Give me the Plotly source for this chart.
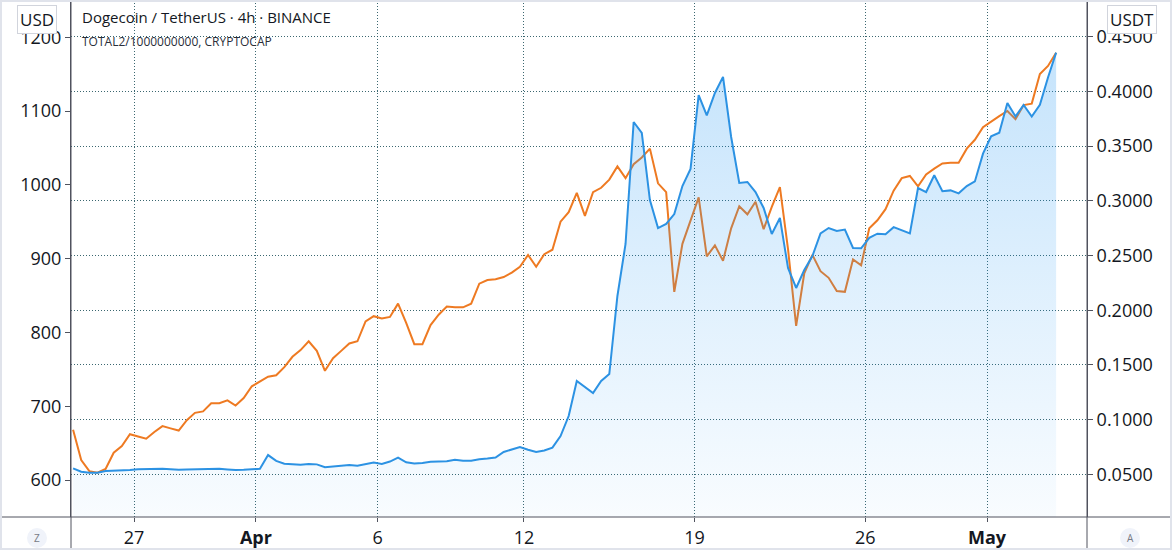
import pandas as pd
import plotly.graph_objects as go

# ---------------- data (8h steps) ----------------
start_time = "2021-03-24 12:00"
n_points = 122
dates = pd.date_range(start_time, periods=n_points, freq="8h")

total2_usd = [
    668, 627, 612, 610, 615, 637, 646, 662, 659, 656,
    665, 673, 670, 667, 681, 691, 693, 704, 704, 708,
    701, 711, 727, 734, 740, 742, 753, 767, 776, 788,
    775, 748, 765, 775, 785, 788, 815, 822, 819, 821,
    839, 813, 784, 784, 810, 824, 835, 834, 834, 839,
    866, 871, 872, 875, 881, 889, 905, 889, 906, 912,
    950, 963, 989, 958, 990, 996, 1007, 1025, 1009, 1028,
    1037, 1049, 1002, 990, 855, 920, 951, 983, 903, 918,
    897, 941, 971, 960, 977, 940, 970, 997, 913, 809,
    880, 905, 883, 874, 856, 855, 899, 891, 941, 952,
    967, 992, 1009, 1012, 998, 1014, 1022, 1029, 1030, 1030,
    1049, 1061, 1078, 1086, 1093, 1100, 1089, 1108, 1110, 1150,
    1161, 1179,
]

doge_usdt = [
    0.0555, 0.0524, 0.0515, 0.0515, 0.0530, 0.0532, 0.0535, 0.0539, 0.0547, 0.0549,
    0.0551, 0.0551, 0.0547, 0.0541, 0.0545, 0.0548, 0.0551, 0.0554, 0.0551, 0.0545,
    0.0539, 0.0541, 0.0546, 0.0551, 0.0676, 0.0623, 0.0597, 0.0594, 0.0587, 0.0594,
    0.0591, 0.0565, 0.0572, 0.0576, 0.0585, 0.0578, 0.0591, 0.0608, 0.0595, 0.0617,
    0.0652, 0.0610, 0.0600, 0.0603, 0.0614, 0.0619, 0.0620, 0.0634, 0.0624, 0.0624,
    0.0638, 0.0644, 0.0654, 0.0704, 0.0726, 0.0750, 0.0725, 0.0704, 0.0718, 0.0744,
    0.0850, 0.1033, 0.1353, 0.1298, 0.1243, 0.1353, 0.1417, 0.2130, 0.2605, 0.3720,
    0.3620, 0.3007, 0.2751, 0.2788, 0.2879, 0.3135, 0.3291, 0.3966, 0.3780, 0.3985,
    0.4132, 0.3583, 0.3163, 0.3172, 0.3080, 0.2934, 0.2697, 0.2843, 0.2386, 0.2203,
    0.2367, 0.2495, 0.2701, 0.2751, 0.2724, 0.2737, 0.2569, 0.2566, 0.2662, 0.2699,
    0.2694, 0.2759, 0.2727, 0.2701, 0.3117, 0.3080, 0.3233, 0.3088, 0.3095, 0.3068,
    0.3134, 0.3177, 0.3431, 0.3590, 0.3622, 0.3894, 0.3771, 0.3875, 0.3770, 0.3878,
    0.4127, 0.4354,
]

x_tick_dates = ["2021-03-27", "2021-04-01", "2021-04-06", "2021-04-12",
                "2021-04-19", "2021-04-26", "2021-05-01"]
x_tick_labels = ["27", "<b>Apr</b>", "6", "12", "19", "26", "<b>May</b>"]
usd_ticks = [600, 700, 800, 900, 1000, 1100, 1200]
usdt_ticks = [0.05, 0.10, 0.15, 0.20, 0.25, 0.30, 0.35, 0.40, 0.45]

title_main = "Dogecoin / TetherUS · 4h · BINANCE"
title_sub = "TOTAL2/1000000000, CRYPTOCAP"

# ---------------- style ----------------
FONT = "Open Sans"
TXT = "#131722"
AXIS = "#50535e"
GRID = "rgba(38,86,96,0.9)"
ORANGE = "#ee7a22"
BLUE = "#2c92e3"

W, H = 1172, 550
ML, MR, MT, MB = 71, 85, 0, 33
PW, PH = W - ML - MR, H - MT - MB


def px_x(px):
    return (px - ML) / PW


def px_y(py):
    return (MT + PH - py) / PH


fig = go.Figure()

fig.add_trace(go.Scatter(
    x=dates, y=total2_usd, mode="lines", yaxis="y",
    line=dict(color=ORANGE, width=2), hoverinfo="skip", showlegend=False,
))

fig.add_trace(go.Scatter(
    x=dates, y=doge_usdt, mode="lines", yaxis="y2",
    line=dict(color=BLUE, width=2), fill="tozeroy",
    fillgradient=dict(type="vertical",
                      colorscale=[[0, "rgba(33,150,243,0.03)"],
                                  [1, "rgba(33,150,243,0.26)"]],
                      start=0.011, stop=max(doge_usdt)),
    hoverinfo="skip", showlegend=False,
))

fig.update_layout(
    width=W, height=H,
    margin=dict(l=ML, r=MR, t=MT, b=MB),
    paper_bgcolor="white", plot_bgcolor="white",
    font=dict(family=FONT, color=TXT),
    xaxis=dict(
        type="date",
        range=["2021-03-24 09:57", "2021-05-05 02:24"],
        tickvals=x_tick_dates, ticktext=x_tick_labels,
        tickfont=dict(size=18, color=TXT),
        showgrid=True, gridcolor=GRID, griddash="1px,2px", gridwidth=1,
        ticks="outside", ticklen=4, tickcolor=AXIS,
        showline=False, zeroline=False, fixedrange=True,
    ),
    yaxis=dict(
        range=[549.9, 1250.4],
        tickvals=usd_ticks,
        tickfont=dict(size=18, color=TXT),
        showgrid=False, zeroline=False,
        ticks="outside", ticklen=5, tickcolor=AXIS,
        showline=True, linecolor=AXIS, linewidth=1,
    ),
    yaxis2=dict(
        overlaying="y", side="right",
        range=[0.011, 0.4835],
        tickvals=usdt_ticks, tickformat=".4f",
        tickfont=dict(size=18, color=TXT),
        showgrid=True, gridcolor=GRID, griddash="1px,2px", gridwidth=1,
        zeroline=False,
        ticks="outside", ticklen=5, tickcolor=AXIS,
        showline=True, linecolor=AXIS, linewidth=1,
    ),
)

# frame lines extending past the plot area
bottom_y = px_y(H)
left_x = px_x(0)
right_x = px_x(W)
shapes = [
    dict(type="line", xref="paper", yref="paper", x0=0, x1=0, y0=bottom_y, y1=1,
         line=dict(color=AXIS, width=1)),
    dict(type="line", xref="paper", yref="paper", x0=1, x1=1, y0=bottom_y, y1=1,
         line=dict(color=AXIS, width=1)),
    dict(type="line", xref="paper", yref="paper", x0=left_x, x1=right_x, y0=0, y1=0,
         line=dict(color=AXIS, width=1)),
    dict(type="rect", xref="paper", yref="paper", x0=left_x, x1=right_x,
         y0=bottom_y, y1=px_y(0), line=dict(color="#e0e3eb", width=4)),
]
# small round buttons "Z" and "A" below the price scales
for cx in (37, 1130):
    shapes.append(dict(type="circle", xref="paper", yref="paper",
                       xsizemode="pixel", ysizemode="pixel",
                       xanchor=px_x(cx), yanchor=px_y(538),
                       x0=-10, x1=10, y0=-10, y1=10,
                       fillcolor="#f0f3fa", line=dict(width=0), layer="above"))
fig.update_layout(shapes=shapes)

ann = []
ann.append(dict(text=title_main, xref="paper", yref="paper",
                x=px_x(80), y=px_y(17), xanchor="left", yanchor="middle",
                showarrow=False, font=dict(size=15, color=TXT, family=FONT)))
ann.append(dict(text=title_sub, xref="paper", yref="paper",
                x=px_x(80), y=px_y(41), xanchor="left", yanchor="middle",
                showarrow=False, font=dict(size=12, color="#2a2e39", family=FONT)))
for label, cx in (("USD", 37), ("USDT", 1132)):
    ann.append(dict(text=label, xref="paper", yref="paper",
                    x=px_x(cx), y=px_y(20), xanchor="center", yanchor="middle",
                    showarrow=False, bgcolor="white", bordercolor="#d1d4dc",
                    borderwidth=1, borderpad=2,
                    font=dict(size=17, color=TXT, family=FONT)))
for label, cx in (("Z", 37), ("A", 1130)):
    ann.append(dict(text=label, xref="paper", yref="paper",
                    x=px_x(cx), y=px_y(538), xanchor="center", yanchor="middle",
                    showarrow=False, font=dict(size=10, color="#787b86", family=FONT)))
fig.update_layout(annotations=ann)

fig.write_html("out.html", config={"displayModeBar": False})
